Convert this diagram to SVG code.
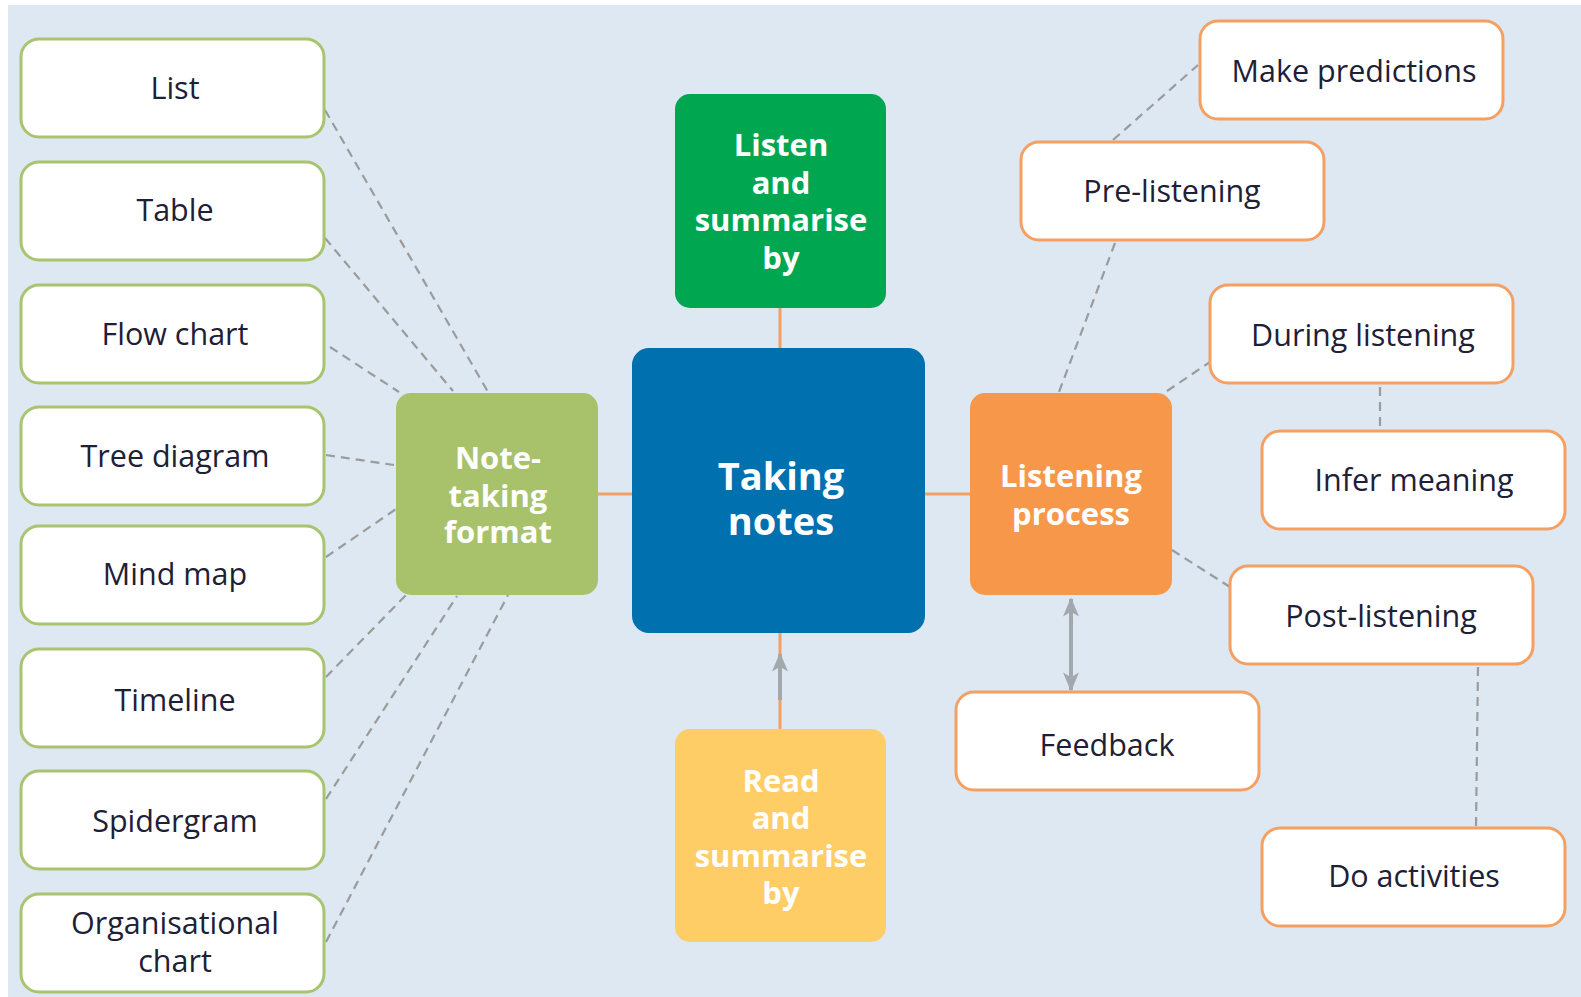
<svg xmlns="http://www.w3.org/2000/svg" width="1581" height="997" viewBox="0 0 1581 997">
<defs>
<style>
.bg{fill:#dde8f3}
.lbox{fill:#ffffff;stroke:#a9c46e;stroke-width:3}
.rbox{fill:#ffffff;stroke:#f5a063;stroke-width:3}
.t{font-family:"Open Sans","Liberation Sans",sans-serif;font-size:30.5px;fill:#1e2036;text-anchor:middle;dominant-baseline:central}
.b{font-family:"Open Sans","Liberation Sans",sans-serif;font-weight:bold;fill:#ffffff;text-anchor:middle}
.dash{stroke:#9b9b9b;stroke-width:2.2;stroke-dasharray:9 6;fill:none}
.solid{stroke:#f5a063;stroke-width:3;fill:none}
.arrow{stroke:#a3a8ad;stroke-width:4;fill:none}
</style>
<marker id="ah" viewBox="0 0 12 10" refX="11" refY="5" markerWidth="5" markerHeight="4" orient="auto-start-reverse" markerUnits="strokeWidth">
<path d="M0,0 L12,5 L0,10 L3,5 Z" fill="#a3a8ad"/>
</marker>
</defs>
<rect x="0" y="0" width="1581" height="997" fill="#ffffff"/>
<rect class="bg" x="8" y="5" width="1573" height="992"/>

<g id="connectors">
<line class="dash" x1="325" y1="110" x2="488" y2="392"/>
<line class="dash" x1="325" y1="238" x2="453" y2="391"/>
<line class="dash" x1="330" y1="347" x2="399" y2="392"/>
<line class="dash" x1="326" y1="455" x2="394" y2="465"/>
<line class="dash" x1="326" y1="557" x2="396" y2="509"/>
<line class="dash" x1="326" y1="677" x2="407" y2="594"/>
<line class="dash" x1="326" y1="799" x2="457" y2="596"/>
<line class="dash" x1="326" y1="942" x2="508" y2="595"/>
<line class="solid" x1="598" y1="494" x2="632" y2="494"/>
<line class="solid" x1="925" y1="494" x2="970" y2="494"/>
<line class="solid" x1="780" y1="308" x2="780" y2="348"/>
<line class="solid" x1="780" y1="633" x2="780" y2="729"/>
<line class="arrow" x1="780" y1="700" x2="780" y2="654" marker-end="url(#ah)"/>
<line class="arrow" x1="1071" y1="599" x2="1071" y2="690" marker-start="url(#ah)" marker-end="url(#ah)"/>
<line class="dash" x1="1115" y1="243" x2="1059" y2="392"/>
<line class="dash" x1="1113" y1="140" x2="1198" y2="65"/>
<line class="dash" x1="1167" y1="391" x2="1210" y2="362"/>
<line class="dash" x1="1380" y1="387" x2="1380" y2="430"/>
<line class="dash" x1="1172" y1="550" x2="1230" y2="587"/>
<line class="dash" x1="1478" y1="667" x2="1476" y2="827"/>
</g>

<g id="list"><rect class="lbox" x="21" y="39" width="303" height="98" rx="18"/><text class="t" x="175" y="87">List</text></g>
<g id="table"><rect class="lbox" x="21" y="162" width="303" height="98" rx="18"/><text class="t" x="175" y="209">Table</text></g>
<g id="flowchart"><rect class="lbox" x="21" y="285" width="303" height="98" rx="18"/><text class="t" x="175" y="333">Flow chart</text></g>
<g id="treediagram"><rect class="lbox" x="21" y="407" width="303" height="98" rx="18"/><text class="t" x="175" y="455">Tree diagram</text></g>
<g id="mindmap"><rect class="lbox" x="21" y="526" width="303" height="98" rx="18"/><text class="t" x="175" y="573">Mind map</text></g>
<g id="timeline"><rect class="lbox" x="21" y="649" width="303" height="98" rx="18"/><text class="t" x="175" y="699">Timeline</text></g>
<g id="spidergram"><rect class="lbox" x="21" y="771" width="303" height="98" rx="18"/><text class="t" x="175" y="820">Spidergram</text></g>
<g id="orgchart"><rect class="lbox" x="21" y="894" width="303" height="98" rx="18"/><text class="t" x="175" y="922">Organisational</text><text class="t" x="175" y="960">chart</text></g>

<g id="notetaking"><rect x="396" y="393" width="202" height="202" rx="15" fill="#a8c26c"/>
<text class="b" font-size="31"><tspan x="498" y="469">Note-</tspan><tspan x="498" y="507">taking</tspan><tspan x="498" y="543">format</tspan></text></g>

<g id="takingnotes"><rect x="632" y="348" width="293" height="285" rx="17" fill="#0070ae"/>
<text class="b" font-size="38"><tspan x="781" y="490">Taking</tspan><tspan x="781" y="535">notes</tspan></text></g>

<g id="listen"><rect x="675" y="94" width="211" height="214" rx="15" fill="#00a650"/>
<text class="b" font-size="31"><tspan x="781" y="156">Listen</tspan><tspan x="781" y="194">and</tspan><tspan x="781" y="231">summarise</tspan><tspan x="781" y="269">by</tspan></text></g>

<g id="read"><rect x="675" y="729" width="211" height="213" rx="15" fill="#fecd66"/>
<text class="b" font-size="31"><tspan x="781" y="792">Read</tspan><tspan x="781" y="829">and</tspan><tspan x="781" y="867">summarise</tspan><tspan x="781" y="904">by</tspan></text></g>

<g id="listeningprocess"><rect x="970" y="393" width="202" height="202" rx="15" fill="#f6974a"/>
<text class="b" font-size="31"><tspan x="1071" y="487">Listening</tspan><tspan x="1071" y="525">process</tspan></text></g>

<g id="makepredictions"><rect class="rbox" x="1200" y="21" width="303" height="98" rx="18"/><text class="t" x="1354" y="70">Make predictions</text></g>
<g id="prelistening"><rect class="rbox" x="1021" y="142" width="303" height="98" rx="18"/><text class="t" x="1172" y="190">Pre-listening</text></g>
<g id="duringlistening"><rect class="rbox" x="1210" y="285" width="303" height="98" rx="18"/><text class="t" x="1363" y="334">During listening</text></g>
<g id="infermeaning"><rect class="rbox" x="1262" y="431" width="303" height="98" rx="18"/><text class="t" x="1414" y="479">Infer meaning</text></g>
<g id="postlistening"><rect class="rbox" x="1230" y="566" width="303" height="98" rx="18"/><text class="t" x="1381" y="615">Post-listening</text></g>
<g id="feedback"><rect class="rbox" x="956" y="692" width="303" height="98" rx="18"/><text class="t" x="1107" y="744">Feedback</text></g>
<g id="doactivities"><rect class="rbox" x="1262" y="828" width="303" height="98" rx="18"/><text class="t" x="1414" y="875">Do activities</text></g>
</svg>
